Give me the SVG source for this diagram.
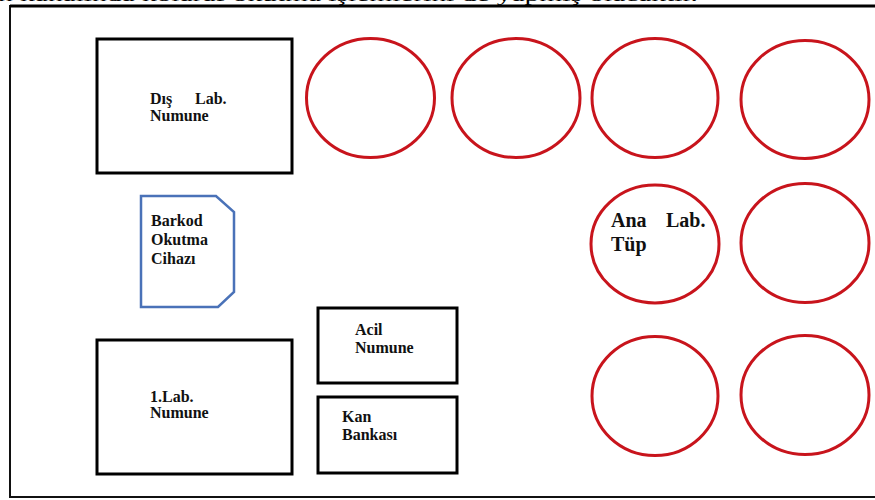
<svg xmlns="http://www.w3.org/2000/svg" width="875" height="500" viewBox="0 0 875 500">
<style>
.bg{fill:#ffffff}
.frame{fill:#ffffff;stroke:#111111;stroke-width:2}
.box{fill:#ffffff;stroke:#000000;stroke-width:3}
.dev{fill:#ffffff;stroke:#4a72b8;stroke-width:2.5}
.tube{fill:#ffffff;stroke:#c8141c;stroke-width:3}
.lbl{font-family:"Liberation Serif","Times New Roman",serif;font-weight:bold;font-size:16px;fill:#111111}
.big{font-size:20px}
.cap{font-family:"Liberation Serif","Times New Roman",serif;font-size:17px;fill:#000000}
</style>
<rect class="bg" x="0" y="0" width="875" height="500"/>
<text class="cap" x="-2" y="0.5" textLength="700" lengthAdjust="spacingAndGlyphs">n kanalında kolaraf okutma işlemlerini de yapmış olacaktır.</text>
<rect class="frame" x="10" y="6" width="890" height="491"/>
<line x1="10" y1="6" x2="875" y2="6" stroke="#000" stroke-width="3"/>
<g id="connectors"></g>
<g id="dis-lab">
<rect class="box" x="97" y="39" width="195" height="134"/>
<text class="lbl" x="150" y="104">Dış<tspan x="195">Lab.</tspan></text>
<text class="lbl" x="150" y="121">Numune</text>
</g>
<g id="barkod">
<polygon class="dev" points="141,196 216,196 234,212 234,292 218,307 141,307"/>
<text class="lbl" x="151" y="226">Barkod</text>
<text class="lbl" x="151" y="245">Okutma</text>
<text class="lbl" x="151" y="264">Cihazı</text>
</g>
<g id="lab1">
<rect class="box" x="97" y="340" width="195" height="134"/>
<text class="lbl" x="150" y="402">1.Lab.</text>
<text class="lbl" x="150" y="418">Numune</text>
</g>
<g id="acil">
<rect class="box" x="318" y="308" width="139" height="75"/>
<text class="lbl" x="355" y="335">Acil</text>
<text class="lbl" x="355" y="353">Numune</text>
</g>
<g id="kan">
<rect class="box" x="318" y="397" width="139" height="76"/>
<text class="lbl" x="342" y="422">Kan</text>
<text class="lbl" x="342" y="440">Bankası</text>
</g>
<g id="tube1"><ellipse class="tube" cx="370.5" cy="98" rx="64" ry="59.5"/></g>
<g id="tube2"><ellipse class="tube" cx="516" cy="98" rx="64" ry="59.5"/></g>
<g id="tube3"><ellipse class="tube" cx="655" cy="98" rx="63" ry="59.5"/></g>
<g id="tube4"><ellipse class="tube" cx="805" cy="99.5" rx="64" ry="59"/></g>
<g id="ana-lab">
<ellipse class="tube" cx="655" cy="244" rx="64" ry="59"/>
<text class="lbl big" x="611" y="227">Ana<tspan x="666">Lab.</tspan></text>
<text class="lbl big" x="611" y="251">Tüp</text>
</g>
<g id="tube6"><ellipse class="tube" cx="805" cy="243" rx="64" ry="59.5"/></g>
<g id="tube7"><ellipse class="tube" cx="655" cy="396" rx="63" ry="59.5"/></g>
<g id="tube8"><ellipse class="tube" cx="805" cy="395" rx="64" ry="59.5"/></g>
</svg>
